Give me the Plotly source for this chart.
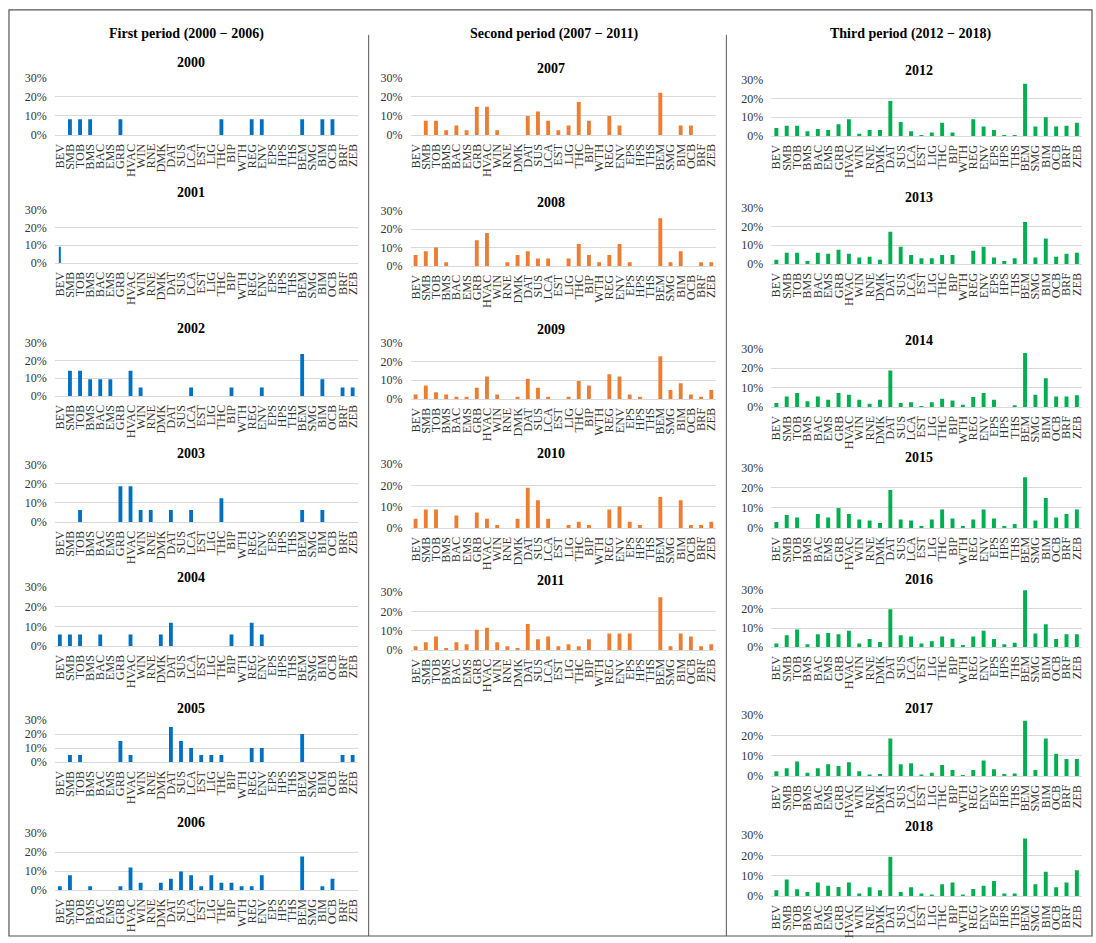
import plotly.graph_objects as go

CATS = ["BEV", "SMB", "TOB", "BMS", "BAC", "EMS", "GRB", "HVAC", "WIN", "RNE",
        "DMK", "DAT", "SUS", "LCA", "EST", "LIG", "THC", "BIP", "WTH", "REG",
        "ENV", "EPS", "HPS", "THS", "BEM", "SMG", "BIM", "OCB", "BRF", "ZEB"]

HEADERS = ["First period (2000 \u2212 2006)", "Second period (2007 \u2212 2011)",
           "Third period (2012 \u2212 2018)"]

# shares (%) per category
V2000 = [0, 8.3, 8.3, 8.3, 0, 0, 8.3, 0, 0, 0, 0, 0, 0, 0, 0, 0, 8.3, 0, 0, 8.3, 8.3, 0, 0, 0, 8.3, 0, 8.3, 8.3, 0, 0]
V2001 = [9.1, 0, 0, 0, 0, 0, 0, 0, 0, 0, 0, 0, 0, 0, 0, 0, 0, 0, 0, 0, 0, 0, 0, 0, 0, 0, 0, 0, 0, 0]
V2002 = [0, 14.3, 14.3, 9.5, 9.5, 9.5, 0, 14.3, 4.8, 0, 0, 0, 0, 4.8, 0, 0, 0, 4.8, 0, 0, 4.8, 0, 0, 0, 23.8, 0, 9.5, 0, 4.8, 4.8]
V2003 = [0, 0, 6.25, 0, 0, 0, 18.75, 18.75, 6.25, 6.25, 0, 6.25, 0, 6.25, 0, 0, 12.5, 0, 0, 0, 0, 0, 0, 0, 6.25, 0, 6.25, 0, 0, 0]
V2004 = [5.9, 5.9, 5.9, 0, 5.9, 0, 0, 5.9, 0, 0, 5.9, 11.8, 0, 0, 0, 0, 0, 5.9, 0, 11.8, 5.9, 0, 0, 0, 0, 0, 0, 0, 0, 0]
V2005 = [0, 5, 5, 0, 0, 0, 15, 5, 0, 0, 0, 25, 15, 10, 5, 5, 5, 0, 0, 10, 10, 0, 0, 0, 20, 0, 0, 0, 5, 5]
V2006 = [2, 7.8, 0, 2, 0, 0, 2, 11.8, 3.9, 0, 3.9, 5.9, 9.8, 7.8, 2, 7.8, 3.9, 3.9, 2, 2, 7.8, 0, 0, 0, 17.6, 0, 2, 5.9, 0, 0]
V2007 = [0, 7.4, 7.4, 2.5, 5, 2.5, 14.8, 14.8, 2.5, 0, 0, 9.9, 12.3, 7.4, 2.5, 5, 17.3, 7.4, 0, 9.9, 5, 0, 0, 0, 22.2, 0, 5, 5, 0, 0]
V2008 = [6, 8, 10, 2, 0, 0, 14, 18, 0, 2, 6, 8, 4, 4, 0, 4, 12, 6, 2, 6, 12, 2, 0, 0, 26, 2, 8, 0, 2, 2]
V2009 = [2.4, 7.2, 3.6, 2.4, 1.2, 1.2, 6.0, 12.0, 2.4, 0, 1.2, 10.8, 6.0, 1.2, 0, 1.2, 9.6, 7.2, 0, 13.3, 12.0, 2.4, 1.2, 0, 22.9, 4.8, 8.4, 2.4, 1.2, 4.8]
V2010 = [4.3, 8.7, 8.7, 0, 5.8, 0, 7.2, 4.3, 1.4, 0, 4.3, 18.8, 13.0, 4.3, 0, 1.4, 2.9, 1.4, 0, 8.7, 10.1, 2.9, 1.4, 0, 14.5, 0, 13.0, 1.4, 1.4, 2.9]
V2011 = [2, 4, 7, 1, 4, 3, 10.5, 11.5, 4, 2, 1, 13.5, 5.5, 7, 2, 3, 2, 5.5, 0, 8.5, 8.5, 8.5, 0, 0, 27.3, 2, 8.5, 7, 2, 3]
V2012 = [4.3, 5.5, 5.5, 2.5, 3.7, 3.2, 6.2, 8.9, 1.2, 3.2, 3.2, 18.7, 7.5, 2.5, 0.5, 1.8, 7, 1.8, 0, 8.9, 5, 3.2, 0.5, 0.5, 28, 5, 10, 5, 5.5, 7]
V2013 = [2.3, 6, 6, 1.6, 6, 5.5, 7.6, 5.5, 3.4, 3.9, 2.3, 17.3, 9.2, 4.8, 3, 3, 4.8, 4.8, 0, 7.1, 9.2, 3.4, 1.6, 3, 22.4, 3.4, 13.6, 3.9, 5.5, 6]
V2014 = [2.1, 5.4, 7.2, 3, 5.4, 3.7, 7.2, 6.3, 3.7, 1.7, 3.7, 18.8, 2.1, 2.4, 0.4, 2.4, 4.2, 3.3, 1.2, 5.1, 7.2, 3.7, 0, 0.9, 27.9, 6.3, 14.8, 5.4, 5.4, 6]
V2015 = [3, 6.5, 5.3, 0, 7, 5.3, 10, 7, 4.2, 3.7, 2.5, 19, 4.2, 3.7, 1, 4.2, 9.2, 4.8, 1, 4.2, 9.3, 4.8, 1, 2, 25.3, 3.7, 15, 5.3, 7, 9.3]
V2016 = [1.9, 6.2, 9.2, 1.4, 6.7, 7.4, 6.7, 8.5, 1.9, 4.2, 2.6, 19.9, 6.2, 5.5, 1.9, 3, 5.5, 4.4, 1.1, 5.5, 8.5, 4.2, 1.4, 2.3, 29.8, 7.1, 12, 4.2, 6.7, 6.7]
V2017 = [2.3, 3.8, 7.1, 1.6, 3.8, 5.8, 4.9, 6.8, 2.3, 0.7, 1, 18.4, 5.8, 6.3, 0.7, 1.6, 5.4, 3, 0.3, 3, 7.6, 3.3, 1, 1.3, 27.2, 3, 18.4, 10.9, 8.4, 8.4]
V2018 = [2.8, 8.1, 3.3, 2, 6.6, 5.1, 4.4, 6.6, 1.3, 4.3, 2.8, 19.3, 2, 4.3, 1.3, 0.7, 5.8, 6.6, 0.7, 3.5, 5.1, 7.4, 1.3, 1.3, 28.3, 5.8, 11.9, 4.3, 6.6, 12.7]

YEARS = [2000, 2001, 2002, 2003, 2004, 2005, 2006, 2007, 2008, 2009, 2010,
         2011, 2012, 2013, 2014, 2015, 2016, 2017, 2018]
VALUES = [V2000, V2001, V2002, V2003, V2004, V2005, V2006, V2007, V2008, V2009,
          V2010, V2011, V2012, V2013, V2014, V2015, V2016, V2017, V2018]
PERIOD = [0, 0, 0, 0, 0, 0, 0, 1, 1, 1, 1, 1, 2, 2, 2, 2, 2, 2, 2]

# ---- layout / style ----
W, H = 1096, 943
COLORS = ["#0070C0", "#ED7D31", "#00B050"]
COL_X = [(53, 357), (410, 717), (772, 1084)]
TITLE_X = [190, 551, 920]
HEADER_X = [185, 555, 912]
# (top of plot = 30% line, bottom = 0% line, title centre) in screen pixels
PANEL_Y = {
    2000: (77, 134, 62), 2001: (209, 262, 192), 2002: (342, 395, 328),
    2003: (464, 521, 453), 2004: (586, 645, 577), 2005: (719, 761, 707),
    2006: (832, 889, 821),
    2007: (77, 134, 68), 2008: (210, 265, 202), 2009: (342, 398, 329),
    2010: (463, 527, 453), 2011: (591, 649, 580),
    2012: (79, 135, 70), 2013: (207, 263, 197), 2014: (348, 406, 340),
    2015: (467, 527, 457), 2016: (589, 646, 579), 2017: (714, 775, 707),
    2018: (834, 895, 825),
}
FONT = "Liberation Serif"
# the captured page appears vertically scaled; compensate
VS, VOFF = 0.985, 6.1


def px(x):
    return x / W


def py(y):
    yy = (y - VOFF) / VS
    yy = min(max(yy, 0.0), H)
    return 1 - yy / H


fig = go.Figure()
layout = {}
annotations = []

for i, (year, vals, per) in enumerate(zip(YEARS, VALUES, PERIOD), start=1):
    xa = "x" if i == 1 else f"x{i}"
    ya = "y" if i == 1 else f"y{i}"
    fig.add_trace(go.Bar(
        x=CATS, y=vals, xaxis=xa, yaxis=ya,
        marker=dict(color=COLORS[per], line=dict(width=0)),
        width=0.16 if year == 2001 else 0.38,
        showlegend=False,
        hovertemplate="%{x}: %{y}%<extra>" + str(year) + "</extra>",
    ))
    top, bot, ty = PANEL_Y[year]
    x0, x1 = COL_X[per]
    layout["xaxis" if i == 1 else f"xaxis{i}"] = dict(
        domain=[px(x0), px(x1)], anchor=ya, type="category",
        categoryorder="array", categoryarray=CATS,
        tickmode="array", tickvals=CATS, ticktext=CATS,
        tickangle=-90, ticks="", ticklabelstandoff=3,
        tickfont=dict(family=FONT, size=12.3, color="#333333"),
        showgrid=False, showline=True, linecolor="#D9D9D9", linewidth=1,
        range=[-0.5, 29.5], fixedrange=True,
    )
    layout["yaxis" if i == 1 else f"yaxis{i}"] = dict(
        domain=[py(bot), py(top)], anchor=xa, range=[0, 30],
        tickmode="linear", tick0=0, dtick=10, ticksuffix="%",
        showgrid=True, gridcolor="#D9D9D9", gridwidth=1,
        zeroline=False, showline=False, ticks="", ticklabelstandoff=7,
        tickfont=dict(family=FONT, size=12, color="#333333"),
        fixedrange=True,
    )
    annotations.append(dict(
        text=f"<b>{year}</b>", x=px(TITLE_X[per]), y=py(ty),
        xref="paper", yref="paper", xanchor="center", yanchor="middle",
        showarrow=False, font=dict(family=FONT, size=14, color="#000000"),
    ))

for k, h in enumerate(HEADERS):
    annotations.append(dict(
        text=f"<b>{h}</b>", x=px(HEADER_X[k]), y=py(33),
        xref="paper", yref="paper", xanchor="center", yanchor="middle",
        showarrow=False, font=dict(family=FONT, size=14, color="#000000"),
    ))

shapes = [
    dict(type="rect", xref="paper", yref="paper", x0=px(7), x1=px(1094),
         y0=py(941), y1=py(9), line=dict(color="#555555", width=1.2)),
    dict(type="line", xref="paper", yref="paper", x0=px(368), x1=px(368),
         y0=py(34), y1=py(940), line=dict(color="#555555", width=1)),
    dict(type="line", xref="paper", yref="paper", x0=px(727), x1=px(727),
         y0=py(34), y1=py(940), line=dict(color="#555555", width=1)),
]

fig.update_layout(
    width=W, height=H, margin=dict(l=0, r=0, t=0, b=0),
    paper_bgcolor="white", plot_bgcolor="white",
    font=dict(family=FONT, color="#333333"),
    annotations=annotations, shapes=shapes, showlegend=False,
    **layout,
)

fig.write_html(
    "out.html",
    config={"displayModeBar": False},
    post_script=(
        "document.documentElement.style.margin='0';"
        "document.body.style.margin='0';document.body.style.padding='0';"
        "document.body.style.overflow='hidden';"
        "var d=document.getElementById('{plot_id}');"
        "d.style.position='fixed';d.style.top='0px';d.style.left='0px';"
    ),
)
